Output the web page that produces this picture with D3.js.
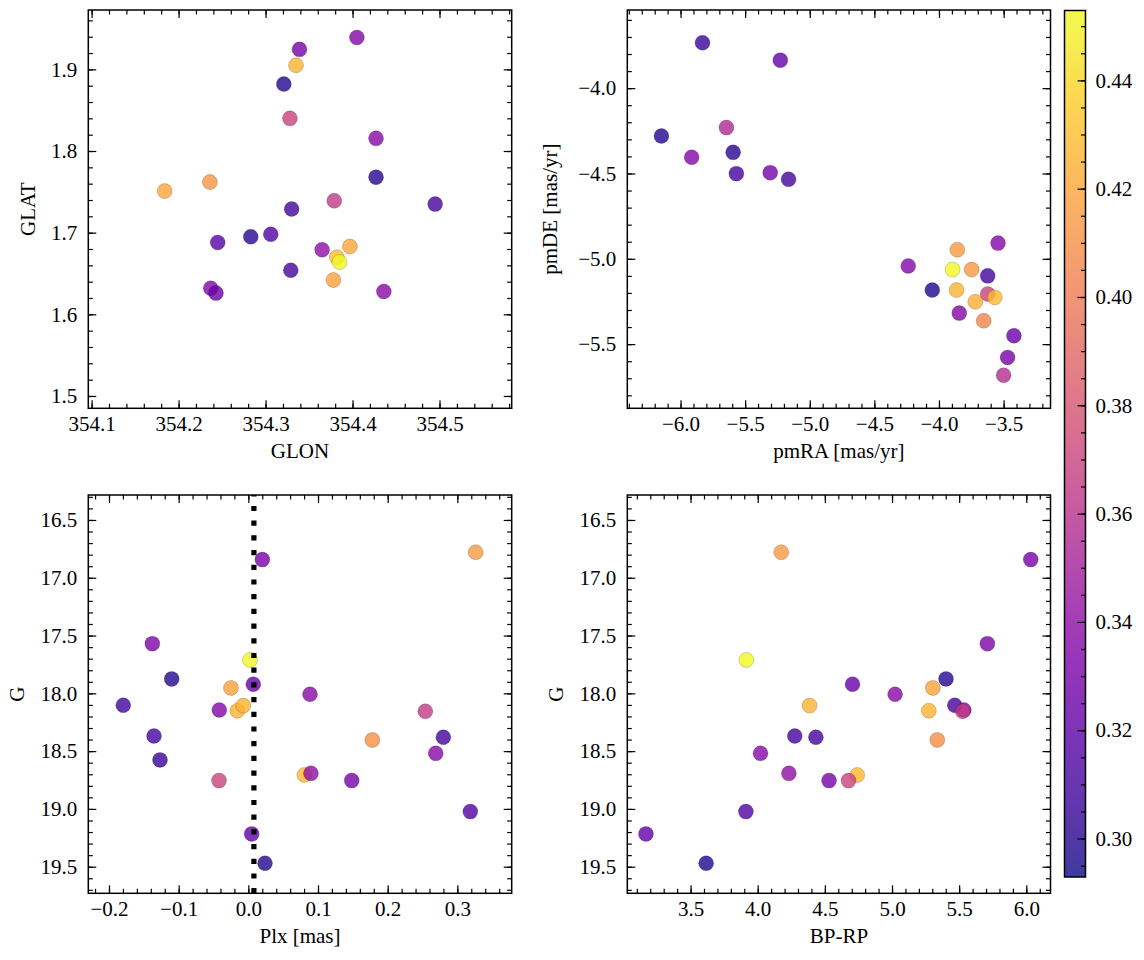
<!DOCTYPE html>
<html>
<head>
<meta charset="utf-8">
<script src="https://cdn.jsdelivr.net/npm/d3@7"></script>
<style>
  html, body { margin: 0; padding: 0; background: #fff; }
  svg { display: block; }
  text { font-family: "Liberation Serif", "Times New Roman", serif; fill: #000; }
</style>
</head>
<body>
<svg id="chart" width="1144" height="960"></svg>
<script>
// ---------------- DATA ----------------
// Panel 1: positions
const posGLON = [354.405, 354.339, 354.335, 354.321, 354.328, 354.427, 354.427, 354.184, 354.236, 354.379, 354.330, 354.495,
                 354.306, 354.283, 354.245, 354.365, 354.397, 354.382, 354.385, 354.329, 354.378, 354.237, 354.243, 354.436];
const posGLAT = [1.939, 1.9245, 1.905, 1.882, 1.840, 1.8155, 1.768, 1.751, 1.762, 1.739, 1.729, 1.735,
                 1.698, 1.695, 1.688, 1.679, 1.683, 1.670, 1.664, 1.654, 1.642, 1.632, 1.626, 1.628];
const posColor = [0.335, 0.33, 0.425, 0.298, 0.37, 0.337, 0.30, 0.42, 0.412, 0.365, 0.31, 0.31,
                  0.315, 0.30, 0.318, 0.34, 0.42, 0.43, 0.453, 0.31, 0.418, 0.335, 0.325, 0.337];

// Panel 2: proper motions
const pmRA = [-5.830, -5.228, -6.148, -5.645, -5.914, -5.593, -5.568, -5.306, -5.164, -3.543, -3.858, -4.238, -3.895,
              -3.747, -3.623, -4.052, -3.864, -3.623, -3.568, -3.719, -3.843, -3.654, -3.420, -3.469, -3.500];
const pmDE = [-3.734, -3.836, -4.280, -4.231, -4.405, -4.376, -4.501, -4.495, -4.534, -4.908, -4.947, -5.042, -5.063,
              -5.063, -5.100, -5.183, -5.183, -5.206, -5.226, -5.252, -5.318, -5.363, -5.451, -5.578, -5.682];
const pmColor = [0.305, 0.322, 0.298, 0.355, 0.335, 0.30, 0.31, 0.33, 0.31, 0.335, 0.415, 0.335, 0.453,
                 0.413, 0.31, 0.297, 0.425, 0.37, 0.428, 0.423, 0.335, 0.405, 0.325, 0.33, 0.358];

// Panels 3 & 4: photometry / parallax
const plx  = [0.3263, 0.0201, -0.1378, 0.0024, -0.110, -0.0249, 0.0071, 0.0885, -0.1795, -0.0417, -0.0158, -0.0072, 0.254,
              -0.1354, 0.2799, 0.178, -0.1268, 0.269, 0.0804, 0.0899, -0.0421, 0.1484, 0.3186, 0.0048, 0.0239];
const gMag = [16.779, 16.843, 17.570, 17.711, 17.875, 17.953, 17.921, 18.008, 18.103, 18.144, 18.150, 18.106, 18.155,
              18.369, 18.380, 18.403, 18.576, 18.519, 18.706, 18.692, 18.755, 18.755, 19.023, 19.216, 19.470];
const bpRp = [4.175, 6.033, 5.710, 3.915, 5.402, 5.304, 4.706, 5.023, 5.467, 5.535, 5.274, 4.386, 5.526,
              4.276, 4.433, 5.337, null, 4.021, 4.741, 4.232, 4.676, 4.531, 3.912, 3.168, 3.616];
const photColor = [0.415, 0.33, 0.333, 0.453, 0.298, 0.418, 0.322, 0.337, 0.31, 0.335, 0.425, 0.425, 0.365,
                   0.31, 0.31, 0.41, 0.305, 0.337, 0.428, 0.34, 0.37, 0.33, 0.315, 0.322, 0.298];

const plxZero = 0.008;            // dotted reference line

// Tick values
const ticksGLON = [354.1, 354.2, 354.3, 354.4, 354.5];
const ticksGLAT = [1.5, 1.6, 1.7, 1.8, 1.9];
const ticksPmRA = [-6.0, -5.5, -5.0, -4.5, -4.0, -3.5];
const ticksPmDE = [-5.5, -5.0, -4.5, -4.0];
const ticksPlx  = [-0.2, -0.1, 0.0, 0.1, 0.2, 0.3];
const ticksG    = [16.5, 17.0, 17.5, 18.0, 18.5, 19.0, 19.5];
const ticksBPRP = [3.5, 4.0, 4.5, 5.0, 5.5, 6.0];
const ticksCbar = [0.30, 0.32, 0.34, 0.36, 0.38, 0.40, 0.42, 0.44];

const colorDomain = [0.2929, 0.4529];

// ---------------- DRAWING ----------------
const svg = d3.select("#chart");
const FS = 21;
const color = d3.scaleSequential(d3.interpolatePlasma).domain(colorDomain);

function minorsFor(domain, step) {
  const lo = Math.min(domain[0], domain[1]), hi = Math.max(domain[0], domain[1]);
  const out = [];
  const start = Math.ceil(lo / step - 1e-6);
  const end = Math.floor(hi / step + 1e-6);
  for (let i = start; i <= end; i++) out.push(+(i * step).toFixed(6));
  return out;
}

function panel(opt) {
  const {x0, x1, y0, y1, xDom, yDom, xTicks, yTicks, xMinor, yMinor, xFmt, yFmt,
         xLabel, yLabel, xLabelY, yLabelX, xs, ys, cs, refX} = opt;
  const x = d3.scaleLinear().domain(xDom).range([x0, x1]);
  const y = d3.scaleLinear().domain(yDom).range([y1, y0]);
  const g = svg.append("g");

  const clipId = "clip" + Math.round(x0) + "_" + Math.round(y0);
  g.append("clipPath").attr("id", clipId).append("rect")
    .attr("x", x0).attr("y", y0).attr("width", x1 - x0).attr("height", y1 - y0);

  const pts = xs.map((v, i) => ({x: v, y: ys[i], c: cs[i]})).filter(d => d.x != null && d.y != null);
  g.append("g").attr("clip-path", `url(#${clipId})`)
    .selectAll("circle").data(pts).join("circle")
    .attr("cx", d => x(d.x)).attr("cy", d => y(d.y)).attr("r", 7.5)
    .attr("fill", d => color(d.c)).attr("fill-opacity", 0.8)
    .attr("stroke", "#000").attr("stroke-opacity", 0.35).attr("stroke-width", 0.5);

  if (refX != null) {
    g.append("line")
      .attr("x1", x(refX)).attr("x2", x(refX)).attr("y1", y1).attr("y2", y0)
      .attr("stroke", "#000").attr("stroke-width", 5.2)
      .attr("stroke-dasharray", "5.2 9.5");
  }

  const tickStyle = sel => {
    sel.select(".domain").remove();
    sel.selectAll(".tick line").attr("stroke", "#000").attr("stroke-width", 1.2);
    sel.selectAll("text").style("font-size", FS + "px").attr("fill", "#000");
  };
  const xm = minorsFor(xDom, xMinor), ym = minorsFor(yDom, yMinor);
  // bottom
  g.append("g").attr("transform", `translate(0,${y1})`)
    .call(d3.axisBottom(x).tickValues(xm).tickSize(-4.5).tickFormat("")).call(tickStyle);
  g.append("g").attr("transform", `translate(0,${y1})`)
    .call(d3.axisBottom(x).tickValues(xTicks).tickSize(-8).tickPadding(8).tickFormat(d3.format(xFmt))).call(tickStyle);
  // top
  g.append("g").attr("transform", `translate(0,${y0})`)
    .call(d3.axisTop(x).tickValues(xm).tickSize(-4.5).tickFormat("")).call(tickStyle);
  g.append("g").attr("transform", `translate(0,${y0})`)
    .call(d3.axisTop(x).tickValues(xTicks).tickSize(-8).tickFormat("")).call(tickStyle);
  // left
  g.append("g").attr("transform", `translate(${x0},0)`)
    .call(d3.axisLeft(y).tickValues(ym).tickSize(-4.5).tickFormat("")).call(tickStyle);
  g.append("g").attr("transform", `translate(${x0},0)`)
    .call(d3.axisLeft(y).tickValues(yTicks).tickSize(-8).tickPadding(11).tickFormat(d3.format(yFmt))).call(tickStyle);
  // right
  g.append("g").attr("transform", `translate(${x1},0)`)
    .call(d3.axisRight(y).tickValues(ym).tickSize(-4.5).tickFormat("")).call(tickStyle);
  g.append("g").attr("transform", `translate(${x1},0)`)
    .call(d3.axisRight(y).tickValues(yTicks).tickSize(-8).tickFormat("")).call(tickStyle);

  g.append("rect").attr("x", x0).attr("y", y0).attr("width", x1 - x0).attr("height", y1 - y0)
    .attr("fill", "none").attr("stroke", "#000").attr("stroke-width", 1.5);

  g.append("text").attr("x", (x0 + x1) / 2).attr("y", xLabelY)
    .attr("text-anchor", "middle").style("font-size", FS + "px").text(xLabel);
  g.append("text").attr("transform", `translate(${yLabelX},${(y0 + y1) / 2}) rotate(-90)`)
    .attr("text-anchor", "middle").style("font-size", FS + "px").text(yLabel);
}

panel({x0: 88.3, x1: 511.7, y0: 10, y1: 408.3,
  xDom: [354.0962, 354.583], yDom: [1.4849, 1.9727],
  xTicks: ticksGLON, yTicks: ticksGLAT, xMinor: 0.02, yMinor: 0.02, xFmt: ".1f", yFmt: ".1f",
  xLabel: "GLON", yLabel: "GLAT", xLabelY: 458, yLabelX: 35,
  xs: posGLON, ys: posGLAT, cs: posColor});

panel({x0: 627.3, x1: 1050.5, y0: 10, y1: 408.3,
  xDom: [-6.412, -3.137], yDom: [-5.876, -3.542],
  xTicks: ticksPmRA, yTicks: ticksPmDE, xMinor: 0.1, yMinor: 0.1, xFmt: ".1f", yFmt: ".1f",
  xLabel: "pmRA [mas/yr]", yLabel: "pmDE [mas/yr]", xLabelY: 458, yLabelX: 557,
  xs: pmRA, ys: pmDE, cs: pmColor});

panel({x0: 88.3, x1: 511.7, y0: 495, y1: 893.3,
  xDom: [-0.2297, 0.378], yDom: [19.730, 16.284],
  xTicks: ticksPlx, yTicks: ticksG, xMinor: 0.02, yMinor: 0.1, xFmt: ".1f", yFmt: ".1f",
  xLabel: "Plx [mas]", yLabel: "G", xLabelY: 943, yLabelX: 24,
  xs: plx, ys: gMag, cs: photColor, refX: plxZero});

panel({x0: 627.3, x1: 1050.5, y0: 495, y1: 893.3,
  xDom: [3.029, 6.18], yDom: [19.730, 16.284],
  xTicks: ticksBPRP, yTicks: ticksG, xMinor: 0.1, yMinor: 0.1, xFmt: ".1f", yFmt: ".1f",
  xLabel: "BP-RP", yLabel: "G", xLabelY: 943, yLabelX: 563,
  xs: bpRp, ys: gMag, cs: photColor});

// ---------------- COLORBAR ----------------
(function colorbar() {
  const cx0 = 1064.5, cx1 = 1085.5, cy0 = 10.5, cy1 = 877;
  const cy = d3.scaleLinear().domain(colorDomain).range([cy1, cy0]);
  const defs = svg.append("defs");
  const grad = defs.append("linearGradient").attr("id", "cbgrad")
    .attr("x1", 0).attr("y1", 1).attr("x2", 0).attr("y2", 0);
  d3.range(0, 1.0001, 0.05).forEach(t => {
    grad.append("stop").attr("offset", t).attr("stop-color", d3.interpolatePlasma(t));
  });
  const g = svg.append("g");
  g.append("rect").attr("x", cx0).attr("y", cy0).attr("width", cx1 - cx0).attr("height", cy1 - cy0)
    .attr("fill", "url(#cbgrad)").attr("fill-opacity", 0.8);
  const ax = d3.axisRight(cy).tickValues(minorsFor(colorDomain, 0.005)).tickSize(-4.5).tickFormat("");
  const axM = d3.axisRight(cy).tickValues(ticksCbar).tickSize(-8).tickPadding(10).tickFormat(d3.format(".2f"));
  const style = sel => {
    sel.select(".domain").remove();
    sel.selectAll(".tick line").attr("stroke", "#000").attr("stroke-width", 1.2);
    sel.selectAll("text").style("font-size", FS + "px").attr("fill", "#000");
  };
  g.append("g").attr("transform", `translate(${cx1},0)`).call(ax).call(style);
  g.append("g").attr("transform", `translate(${cx1},0)`).call(axM).call(style);
  g.append("rect").attr("x", cx0).attr("y", cy0).attr("width", cx1 - cx0).attr("height", cy1 - cy0)
    .attr("fill", "none").attr("stroke", "#000").attr("stroke-width", 1.5);
})();
</script>
</body>
</html>
